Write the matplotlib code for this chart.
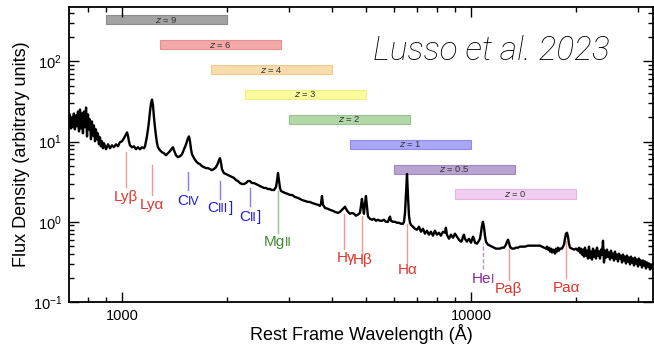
import matplotlib
matplotlib.use("Agg")
import matplotlib.pyplot as plt
import matplotlib.transforms as mtransforms
from matplotlib.ticker import FixedLocator, FixedFormatter, NullFormatter
from matplotlib.offsetbox import TextArea, HPacker, AnnotationBbox

plt.rcParams['font.family'] = ['Liberation Sans', 'DejaVu Sans']

# ---------------- spectrum (rest-frame wavelength in Angstrom, flux arbitrary) -------------
wavelength = [
    700, 705, 709, 714, 719, 723, 728, 733, 738, 743, 748, 753, 758, 763, 768, 773, 778, 783,
    789, 794, 799, 804, 809, 815, 820, 826, 831, 837, 842, 848, 853, 859, 865, 870, 876, 882,
    888, 900, 912, 924, 936, 948, 961, 974, 986, 1000, 1013, 1027, 1034, 1040, 1047, 1054,
    1068, 1082, 1097, 1111, 1126, 1141, 1156, 1164, 1172, 1179, 1187, 1195, 1203, 1211, 1219,
    1227, 1235, 1243, 1252, 1260, 1268, 1285, 1302, 1319, 1337, 1354, 1372, 1391, 1400, 1409,
    1428, 1447, 1466, 1486, 1506, 1526, 1545, 1556, 1566, 1577, 1587, 1608, 1630, 1651, 1673,
    1695, 1718, 1740, 1763, 1786, 1810, 1834, 1859, 1884, 1896, 1909, 1921, 1934, 1959, 1985,
    2012, 2039, 2066, 2094, 2121, 2149, 2178, 2207, 2236, 2266, 2296, 2327, 2357, 2389, 2421,
    2453, 2485, 2518, 2552, 2586, 2620, 2655, 2690, 2726, 2762, 2780, 2799, 2818, 2836, 2855,
    2893, 2931, 2990, 3030, 3070, 3131, 3193, 3235, 3278, 3343, 3411, 3456, 3502, 3572, 3644,
    3692, 3716, 3741, 3766, 3816, 3892, 3944, 4022, 4075, 4158, 4213, 4269, 4326, 4355, 4384,
    4441, 4500, 4560, 4620, 4681, 4744, 4807, 4838, 4870, 4902, 4935, 4967, 5000, 5034, 5068,
    5135, 5204, 5272, 5343, 5413, 5485, 5558, 5632, 5707, 5783, 5821, 5860, 5898, 5977, 6056,
    6137, 6218, 6301, 6384, 6427, 6470, 6513, 6556, 6598, 6642, 6686, 6730, 6820, 6910, 7002,
    7094, 7188, 7283, 7380, 7478, 7577, 7677, 7779, 7882, 7986, 8092, 8200, 8308, 8418, 8474,
    8530, 8648, 8762, 8878, 8996, 9115, 9235, 9358, 9420, 9482, 9545, 9608, 9736, 9868, 10000,
    10132, 10199, 10266, 10402, 10540, 10610, 10680, 10750, 10820, 10892, 10964, 11036, 11186,
    11334, 11484, 11636, 11790, 11949, 12107, 12268, 12431, 12596, 12680, 12764, 12848, 12933,
    13105, 13278, 13455, 13634, 13814, 13998, 14280, 14564, 14757, 15052, 15355, 15557, 15763,
    15972, 16184, 16398, 16507, 16618, 16728, 16839, 16950, 17062, 17175, 17289, 17404, 17519,
    17635, 17751, 17869, 17987, 18226, 18468, 18590, 18713, 18837, 18962, 19087, 19214, 19469,
    19728, 19990, 20255, 20389, 20524, 20660, 20797, 20935, 21073, 21213, 21353, 21495, 21637,
    21780, 21925, 22070, 22216, 22363, 22511, 22660, 22810, 22961, 23112, 23265, 23419, 23574,
    23730, 23887, 24045, 24204, 24364, 24525, 24688, 24851, 25016, 25181, 25348, 25515, 25684,
    25854, 26025, 26197, 26372, 26546, 26722, 26899, 27077, 27256, 27436, 27618, 27801, 27985,
    28170, 28356, 28544, 28733, 28923, 29114, 29307, 29501, 29696, 29893, 30091, 30290, 30490,
    30692, 30895, 31100, 31306, 31513, 31722, 31931, 32143, 32356, 32570, 32786, 33003, 33221,
]
flux = [
    21.2, 15.9, 21.8, 14.6, 20.0, 15.1, 22.4, 14.2, 21.2, 15.5, 23.7, 13.4, 25.1, 14.6, 22.4,
    12.7, 23.7, 15.1, 26.6, 11.6, 21.8, 14.2, 18.9, 10.7, 17.85, 11.9, 15.9, 10.1, 14.2, 10.7,
    12.7, 9.26, 11.3, 8.74, 10.1, 8.26, 9.54, 8.03, 9.26, 8.26, 8.99, 8.50, 9.26, 8.74, 9.81,
    10.1, 11.0, 12.3, 13.0, 11.9, 10.1, 8.99, 8.50, 8.74, 8.03, 8.50, 8.03, 8.50, 8.26, 8.74,
    10.1, 11.6, 14.2, 17.85, 23.7, 29.9, 33.4, 28.2, 20.0, 15.1, 11.6, 9.54, 8.50, 7.80, 7.37,
    7.16, 6.76, 7.16, 7.58, 8.26, 8.50, 7.80, 6.76, 6.39, 6.57, 6.96, 8.03, 9.26, 11.0, 11.6,
    10.1, 8.03, 6.96, 6.21, 5.70, 5.38, 5.23, 4.94, 4.80, 4.67, 4.67, 4.54, 4.41, 4.54, 4.80,
    5.38, 5.86, 6.21, 5.54, 4.54, 4.05, 3.94, 3.83, 3.72, 3.62, 3.52, 3.32, 3.22, 3.04, 2.96,
    2.96, 3.04, 3.22, 3.22, 3.04, 3.04, 2.96, 2.87, 2.79, 2.71, 2.64, 2.64, 2.56, 2.56, 2.49,
    2.49, 2.71, 3.22, 4.05, 3.22, 2.64, 2.42, 2.35, 2.29, 2.22, 2.16, 2.16, 2.04, 1.98, 1.93,
    1.87, 1.82, 1.77, 1.77, 1.72, 1.67, 1.63, 1.58, 1.67, 2.10, 1.63, 1.49, 1.45, 1.41, 1.37,
    1.33, 1.29, 1.33, 1.41, 1.49, 1.54, 1.45, 1.33, 1.26, 1.29, 1.26, 1.19, 1.23, 1.29, 1.58,
    1.93, 1.54, 1.26, 1.67, 2.10, 1.58, 1.16, 1.09, 1.06, 1.09, 1.03, 1.06, 1.03, 1.03, 1.06,
    1.00, 1.00, 1.09, 1.16, 1.03, 1.00, 1.00, 0.972, 0.972, 0.945, 0.945, 1.00, 1.29, 2.29,
    3.94, 2.10, 1.19, 0.972, 0.918, 0.867, 0.819, 0.796, 0.867, 0.752, 0.819, 0.711, 0.774,
    0.691, 0.752, 0.671, 0.774, 0.691, 0.731, 0.671, 0.752, 0.731, 0.843, 0.691, 0.615, 0.691,
    0.633, 0.711, 0.652, 0.598, 0.565, 0.581, 0.652, 0.691, 0.615, 0.565, 0.615, 0.549, 0.652,
    0.615, 0.549, 0.534, 0.581, 0.615, 0.731, 0.892, 1.00, 0.867, 0.671, 0.565, 0.519, 0.504,
    0.490, 0.476, 0.463, 0.463, 0.463, 0.476, 0.476, 0.519, 0.565, 0.598, 0.549, 0.490, 0.463,
    0.463, 0.476, 0.476, 0.490, 0.490, 0.490, 0.504, 0.504, 0.504, 0.504, 0.504, 0.504, 0.490,
    0.476, 0.463, 0.490, 0.450, 0.476, 0.425, 0.463, 0.413, 0.450, 0.437, 0.401, 0.463, 0.425,
    0.476, 0.437, 0.463, 0.463, 0.519, 0.615, 0.711, 0.731, 0.652, 0.534, 0.476, 0.463, 0.450,
    0.463, 0.437, 0.476, 0.413, 0.463, 0.390, 0.450, 0.368, 0.476, 0.379, 0.437, 0.348, 0.490,
    0.358, 0.425, 0.338, 0.463, 0.368, 0.437, 0.348, 0.476, 0.379, 0.425, 0.348, 0.450, 0.390,
    0.581, 0.311, 0.437, 0.358, 0.450, 0.368, 0.413, 0.338, 0.437, 0.358, 0.401, 0.329, 0.425,
    0.348, 0.390, 0.320, 0.401, 0.348, 0.379, 0.311, 0.390, 0.329, 0.368, 0.302, 0.379, 0.320,
    0.358, 0.294, 0.368, 0.311, 0.348, 0.285, 0.358, 0.302, 0.338, 0.277, 0.348, 0.294, 0.329,
    0.269, 0.329, 0.285, 0.320, 0.262, 0.311, 0.277, 0.302, 0.254, 0.294, 0.262, 0.285,
]

# ---------------- redshift coverage bars (observed 9000-20000 A) ----------------
redshifts = [9, 6, 4, 3, 2, 1, 0.5, 0]
obs_min, obs_max = 9000, 20000
bar_labels = ["9", "6", "4", "3", "2", "1", "0.5", "0"]
bar_face = ["#a3a3a3", "#f4a9a9", "#f8dcab", "#fbfb9e", "#b2d8a9", "#a8a8f4", "#b9a3d1", "#f2cdf2"]
bar_edge = ["#8c8c8c", "#e58f8f", "#efc98f", "#f0f08a", "#96c28c", "#8d8de6", "#9f87bd", "#e3b6e3"]

# ---------------- emission lines ----------------
line_main = ["Ly\u03b2", "Ly\u03b1", "C", "C", "C", "Mg", "H\u03b3", "H\u03b2", "H\u03b1", "He",
             "Pa\u03b2", "Pa\u03b1"]
line_small = ["", "", "IV", "III", "II", "II", "", "", "", "I", "", ""]
line_tail = ["", "", "", "]", "]", "", "", "", "", "", "", ""]
line_wave = [1026, 1216, 1549, 1909, 2326, 2798, 4340, 4861, 6563, 10830, 12818, 18751]
line_top = [7.37, 5.09, 4.17, 3.22, 2.64, 2.42, 1.26, 1.19, 0.94, 0.55, 0.48, 0.58]
line_bottom = [2.72, 2.16, 2.49, 1.93, 1.58, 0.73, 0.46, 0.41, 0.31, 0.26, 0.186, 0.197]
label_flux = [2.04, 1.62, 1.82, 1.49, 1.15, 0.565, 0.352, 0.33, 0.25, 0.191, 0.145, 0.148]
label_wave = [1026, 1216, 1549, 1909, 2326, 2798, 4380, 4900, 6600, 10830, 12818, 18751]
line_kind = ["H", "H", "C", "C", "C", "Mg", "H", "H", "H", "He", "H", "H"]

text_colors = {"H": "#e5332a", "C": "#1a1ae0", "Mg": "#3d8b2e", "He": "#8a2a9a"}
mark_colors = {"H": "#f09a96", "C": "#7f7ff0", "Mg": "#8fc48a", "He": "#c08ad0"}

# ---------------- figure ----------------
fig = plt.figure(figsize=(6.54, 3.46), dpi=100)
ax = fig.add_axes([0.1055, 0.1272, 0.8935, 0.8526])
ax.set_xscale("log")
ax.set_yscale("log")
ax.set_xlim(705, 33300)
ax.set_ylim(0.1, 477)

trans = mtransforms.blended_transform_factory(ax.transData, ax.transAxes)
row_top, row_step, bar_h = 0.957, 0.0845, 0.032
for i, z in enumerate(redshifts):
    lo = obs_min / (1 + z)
    hi = obs_max / (1 + z)
    yc = row_top - i * row_step
    ax.add_patch(plt.Rectangle((lo, yc - bar_h / 2), hi - lo, bar_h, transform=trans,
                               facecolor=bar_face[i], edgecolor=bar_edge[i], lw=0.8, zorder=1))
    ax.text((lo * hi) ** 0.5, yc, r"$z$ = " + bar_labels[i], transform=trans, ha="center",
            va="center", fontsize=6.8, color="#333333", zorder=2)

ax.plot(wavelength, flux, color="black", lw=1.7, zorder=3, solid_joinstyle="round")

for i, w in enumerate(line_wave):
    kind = line_kind[i]
    if kind == "He":
        ax.plot([w, w], [line_bottom[i], line_top[i]], color=mark_colors[kind], lw=1.0,
                ls=(0, (3, 1.5)), zorder=2)
    else:
        ax.plot([w, w], [line_bottom[i], line_top[i]], color=mark_colors[kind], lw=1.0, zorder=2)
    tc = text_colors[kind]
    parts = [TextArea(line_main[i], textprops=dict(size=11, color=tc))]
    if line_small[i]:
        parts.append(TextArea(line_small[i], textprops=dict(size=9, color=tc)))
    if line_tail[i]:
        parts.append(TextArea(line_tail[i], textprops=dict(size=11, color=tc)))
    box = HPacker(children=parts, align="baseline", pad=0, sep=0)
    ab = AnnotationBbox(box, (label_wave[i], label_flux[i]), xycoords="data", frameon=False,
                        box_alignment=(0.5, 0.5), pad=0, zorder=4)
    ax.add_artist(ab)

ax.text(0.752, 0.853, "Lusso et al. 2023", transform=fig.transFigure, ha="center", va="center",
        fontsize=24, style="italic", family=["Roboto", "Liberation Sans"], fontweight="light")

# ticks
ax.xaxis.set_major_locator(FixedLocator([1000, 10000]))
ax.xaxis.set_major_formatter(FixedFormatter(["1000", "10000"]))
ax.xaxis.set_minor_formatter(NullFormatter())
ax.tick_params(which="both", direction="in", top=True, right=True, labelsize=10.5, width=1.0,
               pad=5)
ax.tick_params(which="major", length=7)
ax.tick_params(which="minor", length=3.5)
for s in ax.spines.values():
    s.set_linewidth(1.3)

ax.set_xlabel("Rest Frame Wavelength (\u00c5)", fontsize=13, labelpad=1)
ax.set_ylabel("Flux Density (arbitrary units)", fontsize=13, labelpad=2)

fig.savefig("out.png", dpi=100)
